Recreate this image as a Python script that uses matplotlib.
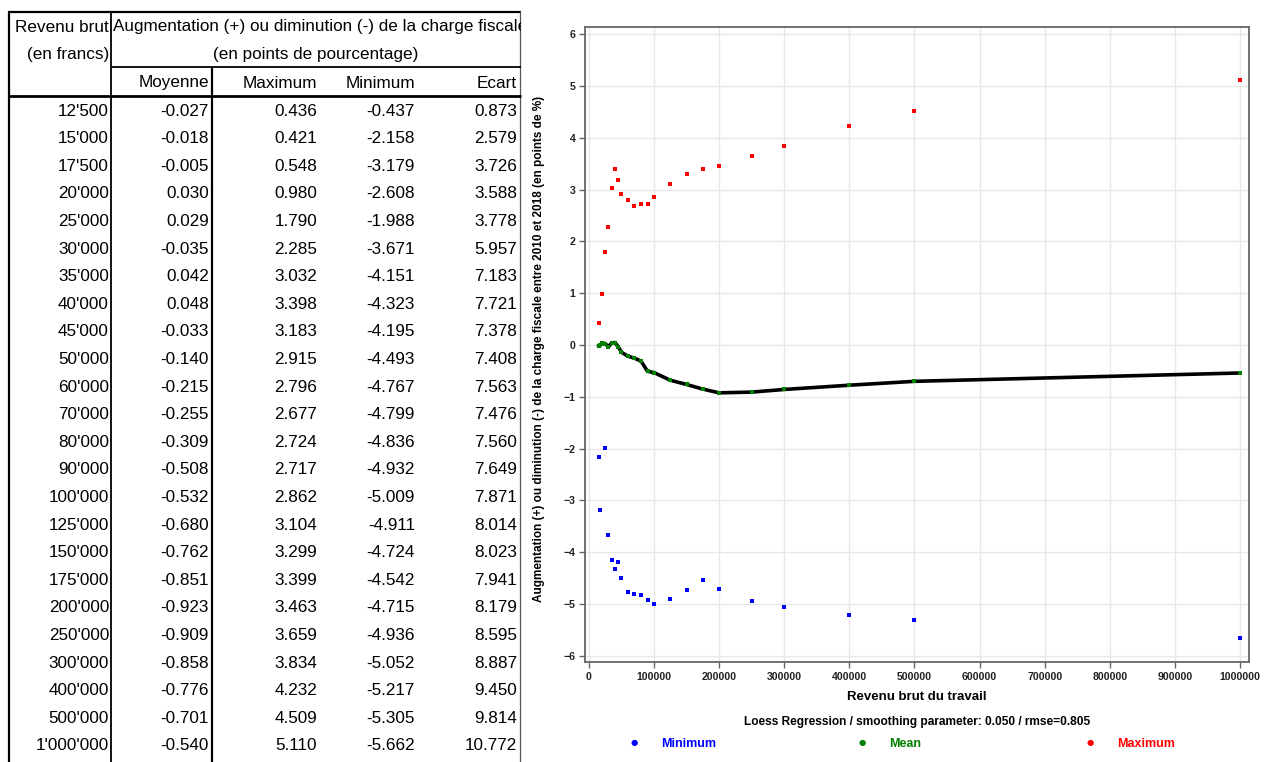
import numpy as np
import matplotlib
matplotlib.use("Agg")
import matplotlib.pyplot as plt

# table data
income_labels = ["12'500", "15'000", "17'500", "20'000", "25'000", "30'000", "35'000", "40'000",
                 "45'000", "50'000", "60'000", "70'000", "80'000", "90'000", "100'000", "125'000",
                 "150'000", "175'000", "200'000", "250'000", "300'000", "400'000", "500'000", "1'000'000"]
income = [12500, 15000, 17500, 20000, 25000, 30000, 35000, 40000, 45000, 50000, 60000, 70000,
          80000, 90000, 100000, 125000, 150000, 175000, 200000, 250000, 300000, 400000, 500000, 1000000]
moyenne = [-0.027, -0.018, -0.005, 0.030, 0.029, -0.035, 0.042, 0.048, -0.033, -0.140, -0.215, -0.255,
           -0.309, -0.508, -0.532, -0.680, -0.762, -0.851, -0.923, -0.909, -0.858, -0.776, -0.701, -0.540]
maximum = [0.436, 0.421, 0.548, 0.980, 1.790, 2.285, 3.032, 3.398, 3.183, 2.915, 2.796, 2.677,
           2.724, 2.717, 2.862, 3.104, 3.299, 3.399, 3.463, 3.659, 3.834, 4.232, 4.509, 5.110]
minimum = [-0.437, -2.158, -3.179, -2.608, -1.988, -3.671, -4.151, -4.323, -4.195, -4.493, -4.767, -4.799,
           -4.836, -4.932, -5.009, -4.911, -4.724, -4.542, -4.715, -4.936, -5.052, -5.217, -5.305, -5.662]
ecart = [0.873, 2.579, 3.726, 3.588, 3.778, 5.957, 7.183, 7.721, 7.378, 7.408, 7.563, 7.476,
         7.560, 7.649, 7.871, 8.014, 8.023, 7.941, 8.179, 8.595, 8.887, 9.450, 9.814, 10.772]

# points visible on the graph (a few table rows are not drawn there)
nan = np.nan
plot_mean = [nan] + moyenne[1:]
plot_max = [nan, 0.421, nan] + maximum[3:]
plot_min = [nan, -2.158, -3.179, nan] + minimum[4:]

fig = plt.figure(figsize=(12.68, 7.62), dpi=100)

# ---- table (pixel coordinates) ----
tab = fig.add_axes([0, 0, 521 / 1268, 1])
tab.set_xlim(0, 521)
tab.set_ylim(762, 0)
tab.axis("off")

def hline(y, x0, x1, lw, c="black"):
    tab.plot([x0, x1], [y, y], color=c, lw=lw, clip_on=False, solid_capstyle="butt")

def vline(x, y0, y1, lw, c="black"):
    tab.plot([x, x], [y0, y1], color=c, lw=lw, clip_on=False, solid_capstyle="butt")

hline(12, 8, 521, 1.6)
vline(9, 11, 762, 1.6)
vline(111, 11, 762, 1.3)
vline(520, 11, 762, 0.9, "#555555")
hline(67, 111, 521, 1.3)
vline(212, 67, 762, 1.6)
hline(96, 8, 521, 2.0)

tfont = dict(family=["Liberation Sans", "DejaVu Sans"], fontsize=12.3, va="center", color="black")
tab.text(109, 27, "Revenu brut", ha="right", **tfont)
tab.text(109, 54, "(en francs)", ha="right", **tfont)
tab.text(113, 27, "Augmentation (+) ou diminution (-) de la charge fiscale", ha="left", clip_on=True, **tfont)
tab.text(316, 54, "(en points de pourcentage)", ha="center", **tfont)
col_x = [209, 317, 415, 517]
for x, h in zip(col_x, ["Moyenne", "Maximum", "Minimum", "Ecart"]):
    tab.text(x, 83, h, ha="right", **tfont)
for i in range(len(income_labels)):
    y = 111 + i * 27.6
    tab.text(109, y, income_labels[i], ha="right", **tfont)
    for x, v in zip(col_x, [moyenne[i], maximum[i], minimum[i], ecart[i]]):
        tab.text(x, y, "%.3f" % v, ha="right", **tfont)

# ---- graph ----
cfont = ["Liberation Sans", "DejaVu Sans"]
ax = fig.add_axes([585 / 1268, 1 - 662 / 762, (1249 - 585) / 1268, (662 - 27) / 762])
ax.plot(income, plot_mean, color="black", lw=2.6, zorder=2)
ax.scatter(income, plot_min, s=6, marker="s", color="#0000ff", lw=0, zorder=3)
ax.scatter(income, plot_mean, s=6, marker="s", color="#008000", lw=0, zorder=3)
ax.scatter(income, plot_max, s=6, marker="s", color="#ff0000", lw=0, zorder=3)

ax.set_xlim(-6000, 1013800)
ax.set_ylim(-6.12, 6.14)
ax.set_xticks(range(0, 1000001, 100000))
ax.set_xticklabels([str(v) for v in range(0, 1000001, 100000)])
ax.set_yticks(range(-6, 7))
ax.grid(True, color="#e8e8e8", lw=1)
ax.set_axisbelow(True)
for s in ax.spines.values():
    s.set_color("#666666")
    s.set_linewidth(1.3)
ax.tick_params(direction="out", length=4, width=1, color="#666666", labelsize=7.6, pad=3)
for lab in ax.get_xticklabels() + ax.get_yticklabels():
    lab.set_family(cfont)
    lab.set_fontweight("bold")
    lab.set_color("#222222")

ax.set_ylabel("Augmentation (+) ou diminution (-) de la charge fiscale entre 2010 et 2018 (en points de %)",
              family=cfont, fontweight="bold", fontsize=8.5)
ax.yaxis.set_label_coords(-0.06, 0.493)

fig.text(917 / 1268, 1 - 697 / 762, "Revenu brut du travail", ha="center", va="center",
         family=cfont, fontweight="bold", fontsize=9.5)
fig.text(917 / 1268, 1 - 722 / 762, "Loess Regression / smoothing parameter: 0.050 / rmse=0.805",
         ha="center", va="center", family=cfont, fontweight="bold", fontsize=8.6)

leg_names = ["Minimum", "Mean", "Maximum"]
leg_colors = ["#0000ff", "#008000", "#ff0000"]
leg_marker_x = [634, 862, 1090]
for name, c, mx in zip(leg_names, leg_colors, leg_marker_x):
    fig.text(mx / 1268, 1 - 743 / 762, "\u25cf", color=c, ha="center", va="center", fontsize=6)
    fig.text((mx + 27) / 1268, 1 - 744 / 762, name, color=c, ha="left", va="center",
             family=cfont, fontweight="bold", fontsize=9)

fig.savefig("out.png", dpi=100)
